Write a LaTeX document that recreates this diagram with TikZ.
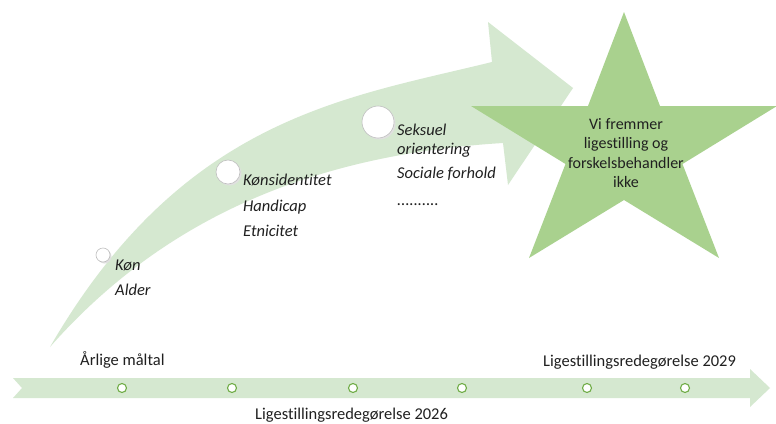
\documentclass[tikz,border=0pt]{standalone}
\usepackage{fontspec}
\setmainfont{Carlito}[Ligatures=NoCommon]
\definecolor{band}{HTML}{D5E8D0}
\definecolor{starc}{HTML}{A9D18E}
\definecolor{tick}{HTML}{70AD47}
\definecolor{txt}{HTML}{202020}
\begin{document}
\begin{tikzpicture}[x=1pt,y=-1pt,
  lbl/.style={anchor=base west, inner sep=0, text=txt, font=\fontsize{16.5}{19.5}\selectfont},
  ilbl/.style={anchor=base west, inner sep=0, text=txt, font=\fontsize{16.5}{19.5}\selectfont\itshape},
  tickc/.style={circle, draw=tick, fill=white, line width=1.1pt, minimum size=9pt, inner sep=0},
  dotc/.style={circle, draw=black!25, fill=white, line width=0.6pt, inner sep=0}]
\useasboundingbox (0,0) rectangle (776,423);
\fill[white] (0,0) rectangle (776,423);
% curved arrow
\fill[band] (50,347) .. controls (183,117) and (346,98) .. (492,62)
  -- (488,22) -- (573,88) -- (508,185) -- (503,143)
  .. controls (323,154) and (169,212) .. (50,347) -- cycle;
% star
\fill[starc] (624,12) -- (660,106) -- (777,106) -- (682.5,164) -- (719,258)
  -- (624,200) -- (529,258) -- (565.5,164) -- (471,106) -- (588,106) -- cycle;
\node[align=center, inner sep=0, text=txt, font=\fontsize{16}{19.5}\selectfont] (goal) at (626,153)
  {Vi fremmer\\ligestilling og\\forskelsbehandler\\ikke};
% timeline
\fill[band] (13,378) -- (750,378) -- (750,369) -- (770,388) -- (750,407)
  -- (750,398) -- (13,398) -- (22,388) -- cycle;
\foreach \x/\n in {122/t1,232/t2,353/t3,462/t4,587/t5,685/t6}
  \node[tickc] (\n) at (\x,388) {};
\node[lbl] (aar) at (80,365) {Årlige måltal};
\node[lbl] (r26) at (255,419) {Ligestillingsredegørelse 2026};
\node[lbl] (r29) at (543,366) {Ligestillingsredegørelse 2029};
% milestones on curve
\fill[black!12] (104.5,256.5) circle (7);
\fill[black!12] (229.5,173.5) circle (12);
\fill[black!12] (379.5,123.5) circle (16);
\node[dotc, minimum size=14pt] (c1) at (103,255) {};
\node[dotc, minimum size=24pt] (c2) at (228,172) {};
\node[dotc, minimum size=32pt] (c3) at (378,122) {};
\node[ilbl] (kon) at (115,270) {Køn};
\node[ilbl] (alder) at (115,295) {Alder};
\node[ilbl] (ksid) at (243,185) {Kønsidentitet};
\node[ilbl] (hand) at (243,211) {Handicap};
\node[ilbl] (etn) at (243,236) {Etnicitet};
\node[ilbl] (seks) at (397,135) {Seksuel};
\node[ilbl] (orie) at (397,154) {orientering};
\node[ilbl] (soc) at (397,178) {Sociale forhold};
\node[ilbl] (dots) at (397,205) {..........};
\end{tikzpicture}
\end{document}
